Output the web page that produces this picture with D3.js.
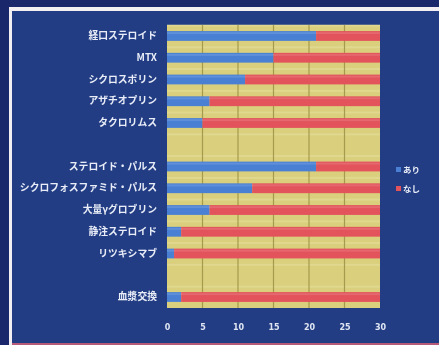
<!DOCTYPE html>
<html>
<head>
<meta charset="utf-8">
<script src="https://cdn.jsdelivr.net/npm/d3@7"></script>
<style>
  html, body { margin: 0; padding: 0; background: #1a276a; }
  svg { display: block; }
</style>
</head>
<body>
<script>
// Treatment categories (empty strings are spacer rows between groups)
const categories = [
  "経口ステロイド", "MTX", "シクロスポリン", "アザチオプリン", "タクロリムス",
  "",
  "ステロイド・パルス", "シクロフォスファミド・パルス", "大量γグロブリン", "静注ステロイド", "リツキシマブ",
  "",
  "血漿交換"
];
// Patients with / without each treatment
const withValues    = [21, 15, 11, 6, 5, null, 21, 12, 6, 2, 1, null, 2];
const withoutValues = [9, 15, 19, 24, 25, null, 9, 18, 24, 28, 29, null, 28];
const seriesNames = ["あり", "なし"];
const xTicks = [0, 5, 10, 15, 20, 25, 30];

const W = 439, H = 345;
const svg = d3.select("body").append("svg").attr("width", W).attr("height", H);

const defs = svg.append("defs");
defs.append("filter").attr("id", "soft")
  .append("feGaussianBlur").attr("stdDeviation", 0.45);

// Slide frame
svg.append("rect").attr("x", 0).attr("y", 0).attr("width", W).attr("height", H).attr("fill", "#1a276a");
svg.append("rect").attr("x", 9).attr("y", 7).attr("width", W - 9).attr("height", H - 7).attr("fill", "#f3eef2");
svg.append("rect").attr("x", 12).attr("y", 11).attr("width", W - 12).attr("height", H - 13).attr("fill", "#223d84");
svg.append("rect").attr("x", 12).attr("y", H - 2).attr("width", W - 12).attr("height", 2).attr("fill", "#b65a78");

const margin = { left: 167, right: 59, top: 25, bottom: 37 };
const plotW = W - margin.left - margin.right;
const plotH = H - margin.top - margin.bottom;

const g = svg.append("g").attr("transform", `translate(${margin.left},${margin.top})`);

const x = d3.scaleLinear().domain([0, 30]).range([0, plotW]);
const y = d3.scaleBand().domain(d3.range(categories.length)).range([0, plotH]).paddingInner(0.55).paddingOuter(0.28);

// Plot background
g.append("rect").attr("width", plotW).attr("height", plotH).attr("fill", "#d9cf7c");

// Faint horizontal texture rows
g.append("g").selectAll("rect").data(d3.range(categories.length)).join("rect")
  .attr("x", 0).attr("width", plotW)
  .attr("y", i => y(i) - y.step() * 0.3).attr("height", 2)
  .attr("fill", "#e6dd9c").attr("opacity", 0.6);

// Vertical gridlines
g.append("g").selectAll("line").data(xTicks.slice(1, -1)).join("line")
  .attr("x1", d => x(d)).attr("x2", d => x(d))
  .attr("y1", 0).attr("y2", plotH)
  .attr("stroke", "#a69a4e").attr("stroke-width", 1.2);

// Stacked bars
const rows = categories.map((c, i) => ({ i, a: withValues[i], b: withoutValues[i] }))
  .filter(d => d.a != null);

const bars = g.append("g").attr("filter", "url(#soft)");
bars.selectAll("rect.a").data(rows).join("rect").attr("class", "a")
  .attr("x", x(0)).attr("y", d => y(d.i))
  .attr("width", d => x(d.a) - x(0)).attr("height", y.bandwidth())
  .attr("fill", "#4a80d4");
bars.selectAll("rect.b").data(rows).join("rect").attr("class", "b")
  .attr("x", d => x(d.a)).attr("y", d => y(d.i))
  .attr("width", d => x(d.a + d.b) - x(d.a)).attr("height", y.bandwidth())
  .attr("fill", "#e2525b");
// highlight strip on top of bars
bars.selectAll("rect.h").data(rows).join("rect").attr("class", "h")
  .attr("x", x(0)).attr("y", d => y(d.i) + 1)
  .attr("width", d => x(d.a + d.b) - x(0)).attr("height", 2)
  .attr("fill", "#ffffff").attr("opacity", 0.12);

// Category axis
const yAxis = d3.axisLeft(y).tickSize(0).tickPadding(10).tickFormat(i => categories[i]);
const ya = g.append("g").attr("filter", "url(#soft)").call(yAxis);
ya.select(".domain").remove();
ya.selectAll("text")
  .attr("fill", "#e9edf7")
  .attr("font-family", "'Noto Sans CJK JP', sans-serif")
  .attr("font-weight", "bold")
  .attr("font-size", 9.8);

// Value axis
const xAxis = d3.axisBottom(x).tickValues(xTicks).tickSize(0).tickPadding(16);
const xa = g.append("g").attr("transform", `translate(0,${plotH})`).attr("filter", "url(#soft)").call(xAxis);
xa.select(".domain").remove();
xa.selectAll("text")
  .attr("fill", "#dfe5f2")
  .attr("font-family", "'DejaVu Sans', sans-serif")
  .attr("font-weight", "bold")
  .attr("font-size", 8);

// Legend
const legend = svg.append("g").attr("transform", "translate(396,170)").attr("filter", "url(#soft)");
const legendColors = ["#4a80d4", "#e2525b"];
seriesNames.forEach((name, k) => {
  const row = legend.append("g").attr("transform", `translate(0,${k * 19})`);
  row.append("rect").attr("x", 0).attr("y", -3).attr("width", 5).attr("height", 5).attr("fill", legendColors[k]);
  row.append("text").attr("x", 7).attr("y", 0).attr("dy", "0.35em")
    .attr("fill", "#e9edf7")
    .attr("font-family", "'Noto Sans CJK JP', sans-serif")
    .attr("font-weight", "bold")
    .attr("font-size", 8.5)
    .text(name);
});
</script>
</body>
</html>
